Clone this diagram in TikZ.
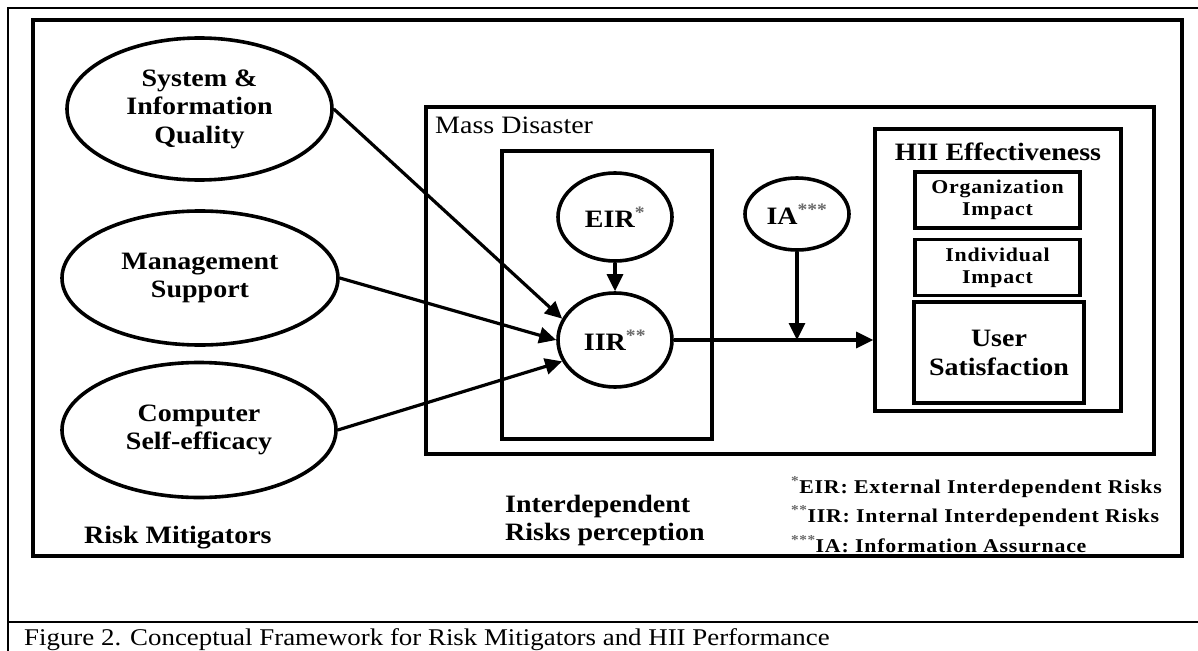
\documentclass[tikz,border=0pt]{standalone}
\usepackage{fontspec}
\setmainfont{Liberation Serif}[FakeStretch=1.12]
\newfontfamily\spacedfont{Liberation Serif}[FakeStretch=1.12, LetterSpace=4]
\usetikzlibrary{arrows.meta,positioning,shapes.geometric,calc}
\definecolor{inkblack}{RGB}{0,0,0}
\definecolor{stargray}{RGB}{105,105,105}
\newcommand{\starsup}[1]{\textsuperscript{\textcolor{stargray}{#1}}}
\tikzset{
  rule/.style={draw=inkblack, line width=2pt},
  frame/.style={draw=inkblack, line width=4pt},
  box/.style={rectangle, draw=inkblack, line width=3.6pt, inner sep=0pt,
    align=center, font=\fontsize{25}{29}\selectfont\bfseries},
  subbox/.style={rectangle, draw=inkblack, line width=3.6pt, inner sep=0pt,
    minimum width=165pt, minimum height=56pt, align=center,
    font=\spacedfont\fontsize{19.5}{22}\selectfont\bfseries},
  oval/.style={ellipse, draw=inkblack, line width=3.6pt, inner sep=0pt,
    align=center, font=\fontsize{25}{28.5}\selectfont\bfseries},
  arr/.style={-{Triangle[length=17pt,width=16pt]}, line width=3.2pt, color=inkblack},
  head/.style={inner sep=0pt, font=\fontsize{25}{28}\selectfont\bfseries},
  plain/.style={inner sep=0pt, font=\fontsize{25}{28}\selectfont},
  legend/.style={inner sep=0pt, align=left,
    font=\spacedfont\fontsize{19.5}{29.5}\selectfont\bfseries}
}

\begin{document}
\begin{tikzpicture}[x=1pt, y=-1pt, node distance=8pt]
\useasboundingbox (0,0) rectangle (1198,650);

%% ── FRAMES ─────────────────────────────────────────────────────────
\draw[rule] (8,8) rectangle (1240,690);
\draw[rule] (8,622) -- (1240,622);
\draw[frame] (33,20) rectangle (1182,556);

%% ── RISK MITIGATORS (left) ─────────────────────────────────────────
\node[oval, minimum width=265pt, minimum height=142pt] (sysq) at (199.5,109)
  {System \&\\Information\\Quality};
\node[oval, minimum width=276pt, minimum height=134pt] (mgmt) at (200,278)
  {Management\\Support};
\node[oval, minimum width=274pt, minimum height=135pt] (comp) at (199,430)
  {Computer\\Self-efficacy};
\node[head, anchor=base west] (mitlbl) at (84,543) {Risk Mitigators};

%% ── MASS DISASTER block ────────────────────────────────────────────
\node[box, minimum width=728pt, minimum height=347pt] (mass) at (790,280.5) {};
\node[plain, anchor=base west] (masslbl) at (435,133) {Mass Disaster};

%% interdependent risks
\node[box, minimum width=210pt, minimum height=288pt] (irp) at (607,295) {};
\node[oval, minimum width=114pt, minimum height=88pt] (eir) at (615,217)
  {EIR\starsup{*}};
\node[oval, minimum width=114pt, minimum height=94pt] (iir) at (615,340)
  {IIR\starsup{**}};
\node[oval, minimum width=104pt, minimum height=72pt] (ia) at (797,214)
  {IA\starsup{***}};

%% HII effectiveness
\node[box, minimum width=246pt, minimum height=282pt] (hii) at (998,270) {};
\node[head, anchor=base] (hiilbl) at (998,160) {HII Effectiveness};
\node[subbox] (org) at (997.5,200) {Organization\\Impact};
\node[subbox, below=of org] (indiv) {Individual\\Impact};
\node[box, minimum width=170pt, minimum height=101pt] (user) at (999,352.5)
  {User\\Satisfaction};

%% ── ARROWS ─────────────────────────────────────────────────────────
\draw[arr] (sysq.east) -- (iir.158);
\draw[arr] (mgmt.east) -- (iir.west);
\draw[arr] (comp.east) -- (iir.202);
\draw[arr] (eir) -- (iir);
\draw[arr] (iir.east) -- (iir.east -| hii.west);
\draw[arr] (ia.south) -- (ia.south |- iir.east);

%% ── NOTES ──────────────────────────────────────────────────────────
\node[head, anchor=base west, align=left] (irplbl) at (505,540)
  {Interdependent\\Risks perception};
\node[legend, anchor=base west] (notes) at (791,552)
  {\starsup{*}EIR: External Interdependent Risks\\
   \starsup{**}IIR: Internal Interdependent Risks\\
   \starsup{***}IA: Information Assurnace};

%% caption
\node[plain, anchor=base west, font=\fontsize{24}{27}\selectfont] (cap) at (24,645)
  {Figure 2. Conceptual Framework for Risk Mitigators and HII Performance};

\end{tikzpicture}
\end{document}
